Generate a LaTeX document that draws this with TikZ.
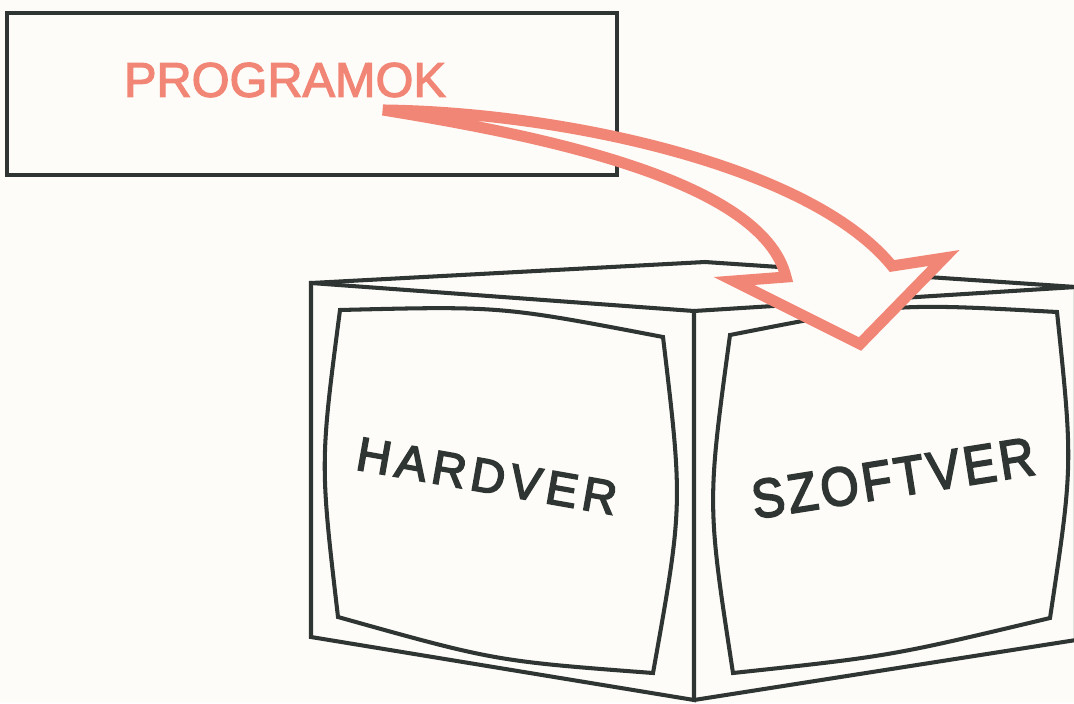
\documentclass[tikz,border=0pt]{standalone}
\usepackage{graphicx}
\usepackage{fontspec}
\setmainfont{Liberation Sans}
\newfontfamily\labelfont[FakeBold=2.5]{Liberation Sans}
\newfontfamily\screenfontA[LetterSpace=11,FakeBold=3.5]{Liberation Sans}
\newfontfamily\screenfontB[LetterSpace=7,FakeBold=3.5]{Liberation Sans}
\definecolor{paper}{RGB}{253,252,248}
\definecolor{ink}{RGB}{47,53,50}
\definecolor{salmon}{RGB}{242,134,118}
\begin{document}
\begin{tikzpicture}[x=0.02cm,y=-0.02cm,
  inkline/.style={draw=ink, line width=2.3pt, line join=miter},
  bigarrow/.style={draw=salmon, fill=paper, line width=6.3pt, line join=miter},
  screentext/.style={text=ink, inner sep=0pt}]
  % page
  \path[use as bounding box, fill=paper] (0,0) rectangle (1074,703);
  \clip (0,0) rectangle (1074,703);

  % program box
  \draw[inkline] (7,13) rectangle (617,175);
  \node[text=salmon, inner sep=0pt, font=\labelfont\fontsize{27.7}{30}\selectfont] (prog) at (285,80) {PROGRAMOK};

  % the box: left face, right face and top
  \draw[inkline] (311,283) -- (694,311) -- (694,700) -- (311,637) -- cycle;
  \draw[inkline] (694,311) -- (1076,287) -- (1076,640) -- (694,700);
  \draw[inkline] (311,283) -- (705,262) -- (1076,287);

  % screens with bulging sides
  \draw[inkline] (340,310) .. controls (501,306) .. (663,337)
                 .. controls (683,505) .. (653,673)
                 .. controls (495,661) .. (338,617)
                 .. controls (320,463) .. cycle;
  \draw[inkline] (730,335) .. controls (893,303) .. (1057,312)
                 .. controls (1073,465) .. (1050,618)
                 .. controls (891,656) .. (733,673)
                 .. controls (707,504) .. cycle;

  \node[screentext, rotate=-10, font=\screenfontA\fontsize{27}{30}\selectfont] (hw) at (487,476) {HARDVER};
  \node[screentext, rotate=9, font=\screenfontB\fontsize{31}{34}\selectfont] (sw) at (893,478) {\scalebox{0.9}[1]{SZOFTVER}};

  % curved hollow arrow from the programs into the box
  \coordinate (tail) at (383,110);
  \coordinate (notchR) at (892,266);
  \coordinate (barbR) at (944,258);
  \coordinate (tip) at (860,344);
  \coordinate (barbL) at (734,281);
  \coordinate (notchL) at (786,277);
  \draw[bigarrow] (tail) .. controls (560,112) and (810,165) .. (notchR)
      -- (barbR) -- (tip) -- (barbL) -- (notchL)
      .. controls (762,178) and (530,134) .. cycle;
\end{tikzpicture}
\end{document}
